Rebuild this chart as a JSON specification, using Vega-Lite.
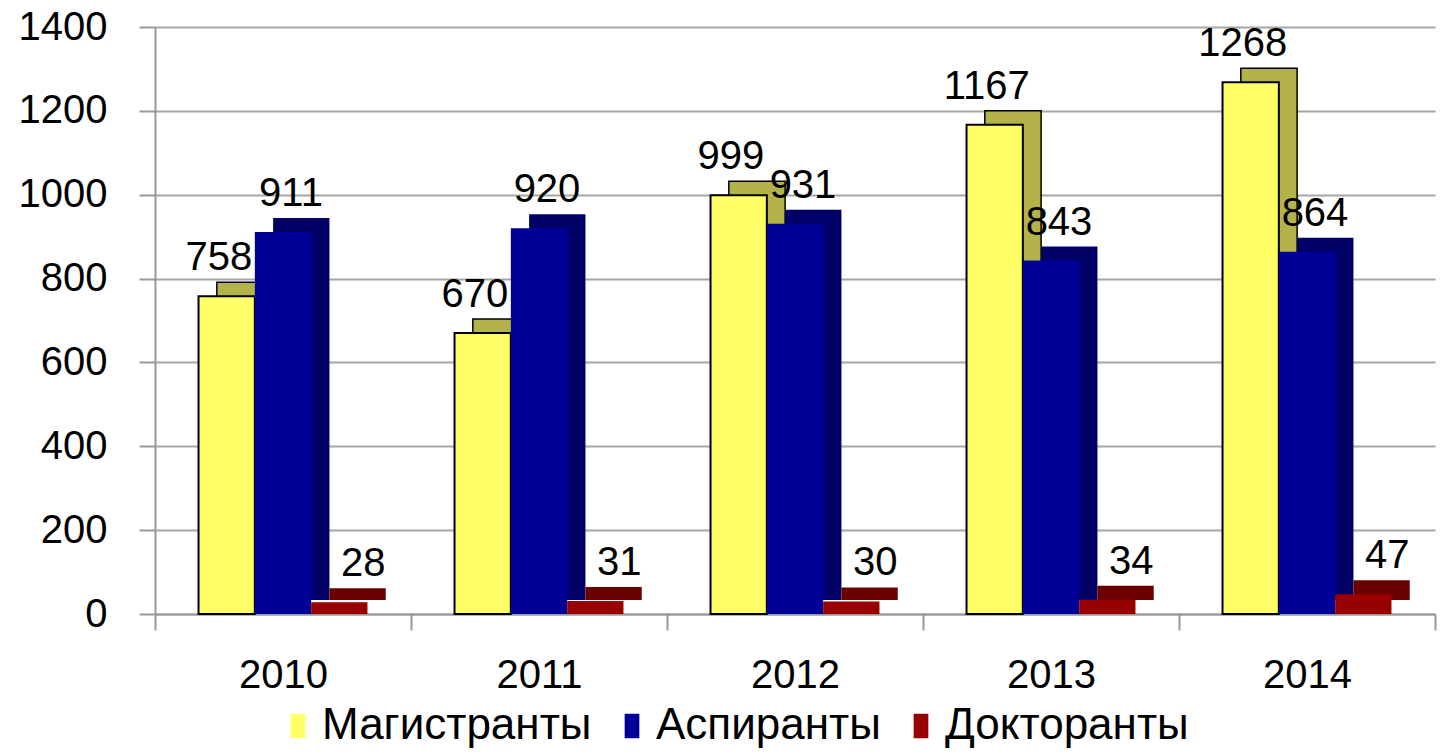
{
  "$schema": "https://vega.github.io/schema/vega-lite/v6.json",
  "autosize": "none",
  "width": 1280,
  "height": 587,
  "padding": {"left": 155, "top": 27, "right": 12, "bottom": 140},
  "background": "white",
  "config": {
    "view": {"stroke": null},
    "font": "Liberation Sans",
    "axis": {"labelFont": "Liberation Sans", "labelColor": "#000000"}
  },
  "data": {
    "values": [
      {"year": "2010", "series": "Магистранты", "value": 758},
      {"year": "2010", "series": "Аспиранты", "value": 911},
      {"year": "2010", "series": "Докторанты", "value": 28},
      {"year": "2011", "series": "Магистранты", "value": 670},
      {"year": "2011", "series": "Аспиранты", "value": 920},
      {"year": "2011", "series": "Докторанты", "value": 31},
      {"year": "2012", "series": "Магистранты", "value": 999},
      {"year": "2012", "series": "Аспиранты", "value": 931},
      {"year": "2012", "series": "Докторанты", "value": 30},
      {"year": "2013", "series": "Магистранты", "value": 1167},
      {"year": "2013", "series": "Аспиранты", "value": 843},
      {"year": "2013", "series": "Докторанты", "value": 34},
      {"year": "2014", "series": "Магистранты", "value": 1268},
      {"year": "2014", "series": "Аспиранты", "value": 864},
      {"year": "2014", "series": "Докторанты", "value": 47}
    ]
  },
  "encoding": {
    "x": {
      "field": "year", "type": "nominal",
      "scale": {"paddingInner": 0, "paddingOuter": 0},
      "axis": {
        "title": null, "labelAngle": 0, "labelFontSize": 40, "labelPadding": 25,
        "tickBand": "extent", "tickSize": 16, "tickColor": "#999999", "tickWidth": 2,
        "domainColor": "#999999", "domainWidth": 2
      }
    },
    "y": {
      "field": "value", "type": "quantitative",
      "scale": {"domain": [0, 1400]},
      "axis": {
        "title": null, "values": [0, 200, 400, 600, 800, 1000, 1200, 1400], "format": "d",
        "labelFontSize": 40, "labelPadding": 32, "tickSize": 16,
        "tickColor": "#999999", "tickWidth": 2, "domainColor": "#999999", "domainWidth": 2,
        "gridColor": "#a6a6a6", "gridWidth": 2
      }
    }
  },
  "resolve": {"scale": {"xOffset": "independent"}},
  "layer": [
    {
      "mark": {"type": "bar", "yOffset": -14, "strokeWidth": 1.5},
      "encoding": {
        "xOffset": {
          "field": "series", "type": "nominal",
          "scale": {"domain": ["Магистранты", "Аспиранты", "Докторанты"], "paddingInner": 0, "paddingOuter": 0.773, "align": 0.71}
        },
        "fill": {
          "condition": [
            {"test": "datum.series === 'Магистранты'", "value": "#b3b34a"},
            {"test": "datum.series === 'Аспиранты'", "value": "#000066"}
          ],
          "value": "#6b0000"
        },
        "stroke": {
          "condition": {"test": "datum.series === 'Магистранты'", "value": "#000000"},
          "value": null
        }
      }
    },
    {
      "mark": {"type": "bar", "strokeWidth": 2},
      "encoding": {
        "xOffset": {
          "field": "series", "type": "nominal",
          "scale": {"domain": ["Магистранты", "Аспиранты", "Докторанты"], "paddingInner": 0, "paddingOuter": 0.773}
        },
        "color": {
          "field": "series", "type": "nominal",
          "scale": {"domain": ["Магистранты", "Аспиранты", "Докторанты"], "range": ["#ffff66", "#000099", "#990000"]},
          "legend": {
            "title": null, "orient": "none", "legendX": 121, "legendY": 677, "direction": "horizontal",
            "labelFontSize": 44, "labelFont": "Liberation Sans", "labelColor": "#000000", "labelLimit": 0,
            "symbolType": "M-0.6,-1H0.6V1H-0.6Z", "symbolSize": 600, "symbolStrokeWidth": 2,
            "columnPadding": 18, "labelOffset": 2,
            "encode": {"symbols": {"update": {"stroke": [{"test": "datum.value === 'Магистранты'", "value": "#000000"}, {"value": "transparent"}], "strokeWidth": {"value": 2}}}}
          }
        },
        "stroke": {
          "condition": {"test": "datum.series === 'Магистранты'", "value": "#000000"},
          "value": null
        }
      }
    },
    {
      "mark": {"type": "text", "fontSize": 40, "baseline": "alphabetic", "dy": -26, "dx": 8, "color": "#000000"},
      "encoding": {
        "xOffset": {
          "field": "series", "type": "nominal",
          "scale": {"domain": ["Магистранты", "Аспиранты", "Докторанты"], "paddingInner": 0, "paddingOuter": 0.773}
        },
        "text": {"field": "value", "type": "quantitative"}
      }
    }
  ]
}
